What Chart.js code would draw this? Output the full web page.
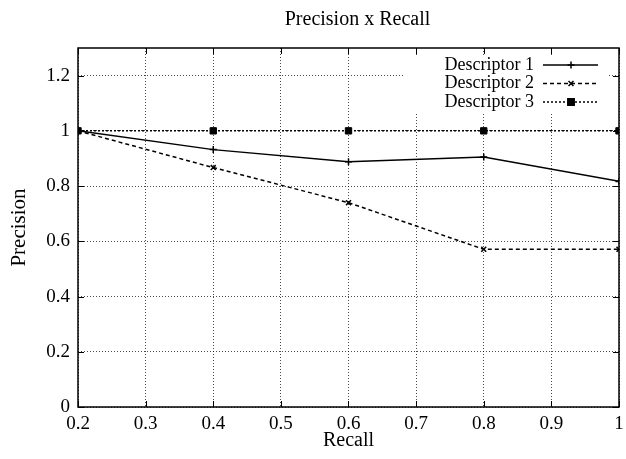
<!DOCTYPE html>
<html>
<head>
<meta charset="utf-8">
<script src="https://cdn.jsdelivr.net/npm/chart.js@4.4.1/dist/chart.umd.min.js"></script>
<style>
  html, body { margin: 0; padding: 0; background: #fff; }
</style>
</head>
<body>
<canvas id="prChart" width="626" height="459"></canvas>
<script>
// values
const recall = [0.2, 0.4, 0.6, 0.8, 1.0]
const descriptor1 = [1.0, 0.932, 0.888, 0.905, 0.817]
const descriptor2 = [1.0, 0.867, 0.74, 0.571, 0.571]
const descriptor3 = [1.0, 1.0, 1.0, 1.0, 1.0]
const seriesNames = ['Descriptor 1', 'Descriptor 2', 'Descriptor 3']
const chartTitle = 'Precision x Recall'

const FONT = '"Liberation Serif", "DejaVu Serif", serif'

function pts(values) {
  return recall.map((r, i) => ({ x: r, y: values[i] }))
}

// gnuplot prints 1 not 1.0
const fmt = v => String(Math.round(v * 100) / 100)

// title over the plot, frame, inward tick marks and the gnuplot-style key
const gnuplotFrame = {
  id: 'gnuplotFrame',
  beforeDatasetsDraw(chart) {
    const ctx = chart.ctx
    ctx.save()
    ctx.fillStyle = '#fff'
    ctx.fillRect(403, 55, 204, 57)
    ctx.restore()
  },
  afterDraw(chart) {
    const ctx = chart.ctx
    const a = chart.chartArea
    const xs = chart.scales.x
    const ys = chart.scales.y
    ctx.save()
    ctx.fillStyle = '#000'
    ctx.font = '20px ' + FONT
    ctx.textAlign = 'center'
    ctx.textBaseline = 'middle'
    ctx.fillText(chartTitle, (a.left + a.right) / 2 + 9, 20)

    ctx.strokeStyle = '#000'
    ctx.lineWidth = 1
    ctx.beginPath()
    xs.ticks.forEach(t => {
      const px = Math.round(xs.getPixelForValue(t.value)) + 0.5
      ctx.moveTo(px, a.bottom); ctx.lineTo(px, a.bottom - 6)
      ctx.moveTo(px, a.top); ctx.lineTo(px, a.top + 6)
    })
    ys.ticks.forEach(t => {
      const py = Math.round(ys.getPixelForValue(t.value)) + 0.5
      ctx.moveTo(a.left, py); ctx.lineTo(a.left + 6, py)
      ctx.moveTo(a.right, py); ctx.lineTo(a.right - 6, py)
    })
    ctx.stroke()
    ctx.lineWidth = 1.5
    ctx.strokeRect(a.left, a.top, a.right - a.left, a.bottom - a.top)

    // key
    ctx.font = '18px ' + FONT
    ctx.textAlign = 'right'
    chart.data.datasets.forEach((ds, i) => {
      const y = 65 + i * 18.5
      ctx.fillText(ds.label, 534, y)
      ctx.beginPath()
      ctx.setLineDash(ds.borderDash || [])
      ctx.lineWidth = ds.borderWidth
      ctx.moveTo(543, y)
      ctx.lineTo(598, y)
      ctx.stroke()
      ctx.setLineDash([])
      Chart.helpers.drawPoint(ctx, {
        pointStyle: ds.pointStyle,
        radius: ds.pointRadius,
        borderWidth: ds.pointBorderWidth,
        rotation: 0
      }, 571, y)
    })
    ctx.restore()
  }
}

new Chart(document.getElementById('prChart').getContext('2d'), {
  type: 'line',
  data: {
    datasets: [{
      label: seriesNames[0],
      data: pts(descriptor1),
      borderColor: '#000',
      backgroundColor: '#000',
      borderWidth: 1.5,
      pointStyle: 'cross',
      pointRadius: 3.5,
      pointBorderWidth: 1.5,
      tension: 0
    }, {
      label: seriesNames[1],
      data: pts(descriptor2),
      borderColor: '#000',
      backgroundColor: '#000',
      borderWidth: 1.5,
      borderDash: [4, 3],
      pointStyle: 'crossRot',
      pointRadius: 3.5,
      pointBorderWidth: 1.5,
      tension: 0
    }, {
      label: seriesNames[2],
      data: pts(descriptor3),
      borderColor: '#000',
      backgroundColor: '#000',
      borderWidth: 1.5,
      borderDash: [2, 2],
      pointStyle: 'rect',
      pointRadius: 4.5,
      pointBorderWidth: 1,
      tension: 0
    }]
  },
  options: {
    responsive: false,
    animation: false,
    devicePixelRatio: 1,
    layout: { padding: { left: 0, right: 7, top: 48, bottom: 0 } },
    plugins: {
      legend: { display: false },
      tooltip: { enabled: false },
      title: { display: false }
    },
    scales: {
      x: {
        type: 'linear',
        min: 0.2,
        max: 1,
        afterFit: s => { s.height = 52; s.paddingRight = 0; s.paddingLeft = 0 },
        ticks: {
          stepSize: 0.1,
          color: '#000',
          font: { family: FONT, size: 19 },
          padding: 6,
          maxRotation: 0,
          callback: fmt
        },
        grid: {
          color: 'rgba(0, 0, 0, 0.7)',
          drawTicks: false
        },
        border: { display: false, dash: [1, 2] },
        title: {
          display: true,
          text: 'Recall',
          color: '#000',
          font: { family: FONT, size: 20 },
          padding: { top: 0, bottom: 6 }
        }
      },
      y: {
        min: 0,
        max: 1.3,
        afterFit: s => { s.width = 78 },
        ticks: {
          stepSize: 0.2,
          includeBounds: false,
          color: '#000',
          font: { family: FONT, size: 19 },
          padding: 8,
          callback: fmt
        },
        grid: {
          color: 'rgba(0, 0, 0, 0.7)',
          drawTicks: false
        },
        border: { display: false, dash: [1, 2] },
        title: {
          display: true,
          text: 'Precision',
          color: '#000',
          font: { family: FONT, size: 21 },
          padding: { top: 7, bottom: 0 }
        }
      }
    }
  },
  plugins: [gnuplotFrame]
})
</script>
</body>
</html>
